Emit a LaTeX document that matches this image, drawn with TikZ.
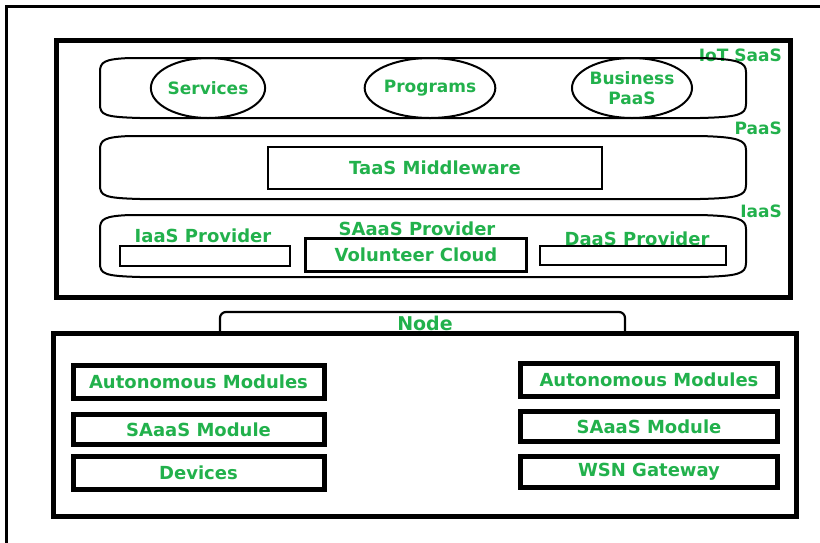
\documentclass[tikz,border=0pt]{standalone}
\usepackage{fontspec}
\setmainfont{DejaVu Sans}
\usetikzlibrary{shapes.geometric}
\definecolor{pgreen}{RGB}{34,177,76}
\newcommand\boxfont{\bfseries\fontsize{18}{21}\selectfont}
\tikzset{
  lbl/.style={text=pgreen, font=\boxfont, inner sep=0pt},
  sidelbl/.style={text=pgreen, font=\bfseries\fontsize{17}{20}\selectfont, inner sep=0pt},
  bandline/.style={draw=black, line width=2pt},
  thinbox/.style={draw=black, line width=2.6pt, inner sep=0pt, text=pgreen, font=\boxfont},
  modbox/.style={draw=black, line width=5pt, inner sep=0pt, text=pgreen, font=\boxfont},
  bigbox/.style={draw=black, line width=5pt, inner sep=0pt},
  oval/.style={ellipse, draw=black, line width=2pt, inner sep=0pt, text=pgreen, align=center, font=\bfseries\fontsize{17}{20}\selectfont},
}
\newcommand\mkband[2]{%
  \draw[bandline] (130,#1) -- (700,#1)
    .. controls (738,#1+1) and (746,#1+4) .. (746,#1+14)
    -- (746,#2-14)
    .. controls (746,#2-3) and (738,#2-1) .. (700,#2)
    -- (140,#2)
    .. controls (104,#2-1) and (100,#2-3) .. (100,#2-14)
    -- (100,#1+14)
    .. controls (100,#1+4) and (104,#1+1) .. (130,#1) -- cycle;}
\begin{document}
\begin{tikzpicture}[x=1pt,y=-1pt]
\useasboundingbox (0,0) rectangle (820,542);
\begin{scope}
\clip (0,0) rectangle (820,542);
\draw[line width=3pt] (6,6) rectangle (840,570);
\end{scope}
% top container
\node[bigbox, minimum width=734pt, minimum height=257pt] (top) at (423,168.5) {};
\node[sidelbl, anchor=east] (iotsaas) at (782,55) {IoT SaaS};
\node[sidelbl, anchor=east] (paas) at (782,128) {PaaS};
\node[sidelbl, anchor=east] (iaas) at (782,211) {IaaS};
% bands
\mkband{58}{118}
\mkband{136}{199}
\mkband{215}{277}
% layer 1
\node[oval, minimum width=104pt, minimum height=60pt] (serv) at (208,88) {Services};
\node[oval, minimum width=100pt, minimum height=60pt] (prog) at (430,88) {Programs};
\node[oval, minimum width=100pt, minimum height=60pt] (bus) at (632,88) {Business\\PaaS};
% layer 2
\node[thinbox, minimum width=334pt, minimum height=42pt] (taas) at (435,168) {TaaS Middleware};
% layer 3
\node[lbl] (iaasp) at (203,236) {IaaS Provider};
\node[thinbox, minimum width=170pt, minimum height=20pt] (iaasbox) at (205,256) {};
\node[lbl] (saaasp) at (417,229) {SAaaS Provider};
\node[thinbox, minimum width=221pt, minimum height=33pt] (vol) at (416,255) {Volunteer Cloud};
\node[lbl] (daasp) at (637,239) {DaaS Provider};
\node[thinbox, minimum width=186pt, minimum height=19pt] (daasbox) at (633,255.5) {};
% node tab
\draw[line width=2.2pt, rounded corners=6pt] (220,333) -- (220,312) -- (625,312) -- (625,333);
\node[text=pgreen, font=\bfseries\fontsize{19}{21}\selectfont, inner sep=0pt] (nodelbl) at (425,323) {Node};
% bottom container
\node[bigbox, minimum width=743pt, minimum height=183pt] (bot) at (424.5,424.5) {};
\node[modbox, minimum width=251pt, minimum height=33pt] (lam) at (198.5,381.5) {Autonomous Modules};
\node[modbox, minimum width=251pt, minimum height=30pt] (lsm) at (198.5,429.5) {SAaaS Module};
\node[modbox, minimum width=251pt, minimum height=33pt] (ldev) at (198.5,472.5) {Devices};
\node[modbox, minimum width=257pt, minimum height=33pt] (ram) at (649,380) {Autonomous Modules};
\node[modbox, minimum width=257pt, minimum height=30pt] (rsm) at (649,426.5) {SAaaS Module};
\node[modbox, minimum width=257pt, minimum height=31pt] (rwsn) at (649,472) {WSN Gateway};
\end{tikzpicture}
\end{document}
